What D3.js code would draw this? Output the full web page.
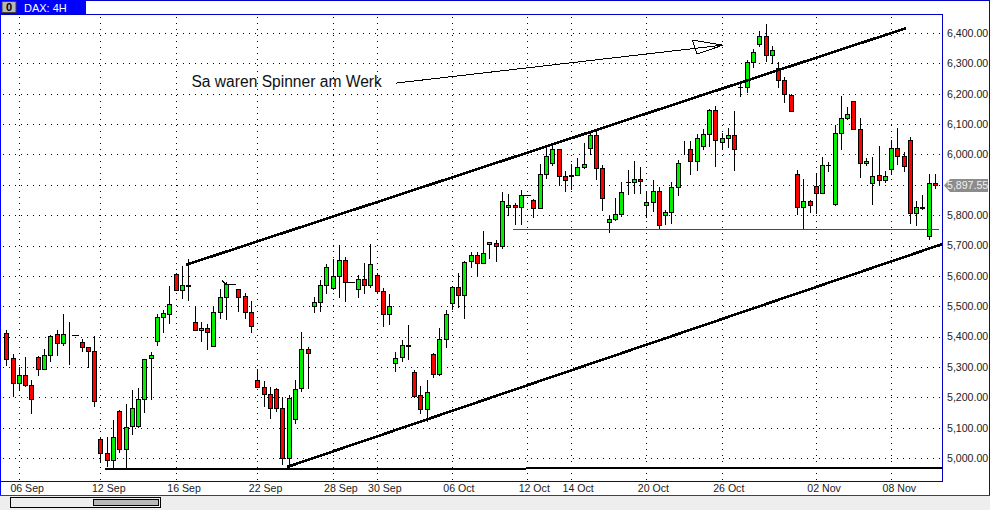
<!DOCTYPE html>
<html><head><meta charset="utf-8">
<script src="https://cdnjs.cloudflare.com/ajax/libs/d3/7.8.5/d3.min.js"></script>
<style>html,body{margin:0;padding:0;background:#fff;overflow:hidden}svg{display:block}text{font-family:"Liberation Sans",Arial,sans-serif}</style>
</head><body><svg id="c" width="990" height="510"></svg>
<script>
const title = "DAX: 4H";
const note = "Sa waren Spinner am Werk";
const priceTicks = [5000,5100,5200,5300,5400,5500,5600,5700,5800,5900,6000,6100,6200,6300,6400];
const dateIndex = [2,15,27,40,52,59,71,83,90,102,114,129,141];
const dateLabels = ["06 Sep","12 Sep","16 Sep","22 Sep","28 Sep","30 Sep","06 Oct","12 Oct","14 Oct","20 Oct","26 Oct","02 Nov","08 Nov"];
const lastPrice = 5897.55;
const opens = [5411,5328,5246,5272,5239,5332,5292,5338,5407,5378,5407,5406,5381,5365,5351,5062,5015,4992,5154,5029,5104,5107,5193,5328,5384,5463,5473,5605,5552,5568,5447,5421,5427,5370,5480,5529,5572,5556,5533,5480,5256,5233,5210,5226,5164,4999,5127,5230,5358,
5502,5513,5569,5559,5598,5651,5579,5556,5589,5569,5602,5549,5473,5312,5332,5369,5282,5206,5160,5342,5276,5391,5510,5562,5536,5648,5668,5641,5704,5709,5697,5826,5832,5826,5865,5849,5822,5934,5971,6017,5928,5930,5931,5958,6020,6063,
5954,5778,5786,5803,5908,5908,5918,5832,5842,5878,5799,5809,5892,6013,6017,5977,6027,6066,6145,6040,6053,6063,6223,6221,6303,6363,6389,6326,6284,6244,6195,5934,5826,5845,5895,5872,5964,5836,6069,6119,6175,6083,5971,5905,5931,5915,5951,6020,5994,6046,5806,5824,5730,5905];
const highs = [5422,5343,5301,5334,5257,5336,5359,5405,5420,5474,5448,5406,5392,5365,5402,5070,5069,5124,5158,5178,5224,5230,5325,5348,5473,5488,5567,5611,5633,5656,5496,5447,5440,5496,5556,5580,5572,5556,5542,5516,5292,5253,5235,5230,5200,5206,5256,5414,5367,
5529,5586,5638,5654,5701,5661,5579,5602,5641,5704,5608,5559,5540,5348,5389,5437,5290,5236,5256,5345,5427,5486,5567,5608,5649,5679,5678,5747,5710,5717,5875,5870,5839,5882,5865,5852,5967,6023,6037,6017,5944,5967,5988,6037,6073,6076,
5965,5800,5855,5909,5949,5977,5957,5881,5915,5894,5817,5908,5982,6044,6043,6066,6083,6150,6158,6069,6086,6143,6243,6311,6346,6405,6430,6357,6304,6254,6199,5948,5918,5850,5938,5990,5974,6097,6192,6156,6175,6119,5987,5990,6027,5944,6046,6086,6007,6056,5845,5865,5934,5934];
const lows = [5306,5205,5224,5238,5147,5275,5292,5321,5340,5372,5311,5406,5354,5301,5172,4988,4974,4966,5021,4966,5080,5101,5153,5193,5373,5416,5446,5552,5527,5521,5421,5385,5360,5368,5462,5459,5572,5484,5462,5415,5233,5172,5133,5156,4981,4966,5116,5222,5232,
5482,5485,5545,5556,5531,5518,5579,5531,5545,5564,5542,5436,5440,5288,5321,5325,5200,5149,5123,5266,5272,5365,5490,5496,5462,5628,5604,5641,5660,5650,5691,5802,5772,5772,5865,5795,5822,5921,5964,5898,5878,5885,5931,5954,6001,5918,
5817,5746,5784,5797,5870,5872,5872,5793,5815,5755,5770,5775,5866,6000,5937,5949,6017,6029,5962,6021,6026,5949,6192,6206,6289,6356,6307,6302,6222,6173,6142,5804,5759,5810,5806,5872,5946,5832,6018,6116,6083,5927,5964,5836,5901,5908,5934,5967,5944,5773,5766,5819,5720,5888];
const closes = [5325,5246,5272,5239,5193,5292,5338,5403,5378,5410,5410,5406,5365,5351,5189,5015,4992,5070,5029,5101,5164,5193,5325,5338,5463,5477,5506,5552,5569,5571,5421,5427,5414,5480,5529,5572,5572,5529,5480,5434,5233,5210,5164,5164,4999,5197,5226,5358,5345,
5513,5569,5628,5598,5651,5579,5579,5589,5569,5638,5549,5473,5500,5328,5371,5372,5205,5160,5216,5276,5391,5473,5562,5536,5645,5668,5641,5674,5710,5697,5846,5832,5826,5865,5865,5822,5934,5994,6017,5928,5915,5933,5958,5967,6063,5954,
5858,5787,5803,5875,5908,5918,5911,5842,5878,5766,5809,5892,5971,6016,5977,6053,6066,6145,6046,6053,6063,6017,6223,6303,6336,6389,6326,6343,6244,6198,6142,5826,5845,5832,5872,5964,5964,6069,6119,6132,6083,5971,5980,5928,5915,5928,6020,5994,5961,5806,5826,5827,5905,5898];
const upperChannel = [[28.6,5636],[143.4,6416]];
const lowerChannel = [[44.7,4970],[149.2,5705]];
const floorLeft = [[15.7,4964],[82.8,4964]];
const floorRight = [[82.8,4967],[149.2,4967]];
const supportLine = [[80.8,5753],[148.6,5753]];
const arrowShaft = [[62.1,6235],[114.2,6360]];
const arrowHead = [[109.3,6377],[114.2,6360],[110.1,6331],[109.3,6377]];
const smallTick = [[34.4,5584],[35.0,5570]];

const svg = d3.select("#c");
const x = d3.scaleLinear().domain([0,148]).range([6.33,935]);
const y = d3.scaleLinear().domain([5000,6400]).range([458,33]);
const snap = v => Math.round(v)+0.5;
const blue="#0000c8";

// plot background and chrome
svg.append("rect").attr("width",990).attr("height",510).attr("fill","#fff");
svg.append("rect").attr("x",0).attr("y",495).attr("width",990).attr("height",15).attr("fill","#eeeeee");

// grid
const grid = svg.append("g").attr("stroke","#000").attr("stroke-dasharray","1 5").attr("shape-rendering","crispEdges");
grid.selectAll(".h").data(priceTicks).join("line").attr("x1",3).attr("x2",942)
  .attr("y1",d=>snap(y(d))).attr("y2",d=>snap(y(d)));
grid.selectAll(".v").data(dateIndex).join("line").attr("y1",17).attr("y2",481)
  .attr("x1",d=>snap(x(d))).attr("x2",d=>snap(x(d)));

// candles
const candles = d3.range(opens.length);
const cg = svg.append("g").attr("shape-rendering","crispEdges");
cg.selectAll(".w").data(candles).join("line").attr("stroke","#000")
  .attr("x1",i=>snap(x(i))).attr("x2",i=>snap(x(i)))
  .attr("y1",i=>Math.round(y(highs[i]))).attr("y2",i=>Math.round(y(lows[i]))+1);
cg.selectAll(".b").data(candles).join("rect")
  .attr("x",i=>Math.round(x(i))-1.5).attr("width",4)
  .attr("y",i=>Math.round(y(Math.max(opens[i],closes[i])))+0.5)
  .attr("height",i=>Math.abs(Math.round(y(opens[i]))-Math.round(y(closes[i]))))
  .attr("fill",i=>closes[i]>=opens[i]?"#00f000":"#ff0000")
  .attr("stroke","#000");
cg.selectAll(".d").data(candles.filter(i=>opens[i]===closes[i])).join("line").attr("stroke","#000")
  .attr("x1",i=>Math.round(x(i))-(highs[i]===lows[i]?3:2)).attr("x2",i=>Math.round(x(i))+3+(highs[i]===lows[i]?1:0))
  .attr("y1",i=>snap(y(opens[i]))).attr("y2",i=>snap(y(opens[i])));

// drawn lines
const line = d3.line().x(d=>x(d[0])).y(d=>y(d[1]));
const draw = (pts,w,c)=>svg.append("path").attr("d",line(pts)).attr("stroke",c).attr("stroke-width",w).attr("fill","none").attr("shape-rendering","crispEdges");
draw(upperChannel,2.6,"#000");
draw(lowerChannel,2.6,"#000");
draw(floorLeft,2.6,"#000");
draw(floorRight,2.6,"#000");
draw(smallTick,1.6,"#000");
draw(supportLine,1,"#f00000");
draw(arrowShaft,1,"#000");
draw(arrowHead,1,"#000");
svg.append("text").attr("x",x(29.5)).attr("y",87).attr("font-size",15.6).attr("fill","#111").text(note);

// frame
svg.append("g").attr("shape-rendering","crispEdges").call(g=>{
  const L=(a,b,c,d,col)=>g.append("line").attr("x1",a).attr("y1",b).attr("x2",c).attr("y2",d).attr("stroke",col||blue);
  L(0,0.5,990,0.5); L(0.5,0,0.5,495,"#0000ff"); L(0,14.5,942,14.5); L(942.5,14,942.5,481.5);
  L(0,481.5,942.5,481.5); L(989.5,0,989.5,495,"#0000ff"); L(0,495.5,990,495.5,"#0050a0");
});

// axes
const yAxis = d3.axisRight(y).tickValues(priceTicks).tickSize(0).tickPadding(0).tickFormat(d3.format(",.2f"));
const ya = svg.append("g").attr("transform","translate(947,0)").call(yAxis);
ya.select(".domain").remove();
ya.selectAll("text").attr("font-size",10.6).attr("font-family","Liberation Sans").attr("fill","#222");
const xAxis = d3.axisBottom(x).tickValues(dateIndex).tickSize(0).tickPadding(0).tickFormat((d,i)=>dateLabels[i]);
const xa = svg.append("g").attr("transform","translate(0,484)").call(xAxis);
xa.select(".domain").remove();
xa.selectAll("text").attr("font-size",10.6).attr("font-family","Liberation Sans").attr("fill","#222").attr("text-anchor","start").attr("dx",-9);

// last-price tag
const ty = y(lastPrice);
svg.append("path").attr("fill","#8c8c8c")
  .attr("d",`M944,${ty} L950,${ty-6.5} H988 V${ty+6.5} H950 Z`);
svg.append("text").attr("x",947).attr("y",ty).attr("dy","0.36em").attr("font-size",10.6).attr("fill","#f0f0f0").text(d3.format(",.2f")(lastPrice));

// tab
svg.append("rect").attr("x",0).attr("y",0).attr("width",86).attr("height",14).attr("fill","#0000ff");
svg.append("rect").attr("x",2).attr("y",1.5).attr("width",14).attr("height",11).attr("fill","#b8b8b8").attr("stroke","#404040");
svg.append("text").attr("x",9).attr("y",11).attr("text-anchor","middle").attr("font-size",11).attr("font-weight","bold").attr("fill","#000").text("0");
svg.append("text").attr("x",24).attr("y",11.5).attr("font-size",11).attr("fill","#fff").text(title);

// scrollbar
svg.append("rect").attr("x",10.5).attr("y",497.5).attr("width",150).attr("height",10).attr("fill","#eeeeee").attr("stroke","#000").attr("shape-rendering","crispEdges");
svg.append("rect").attr("x",93.5).attr("y",499.5).attr("width",65).attr("height",6).attr("fill","#b8b8b8").attr("stroke","#000").attr("shape-rendering","crispEdges");
</script></body></html>
